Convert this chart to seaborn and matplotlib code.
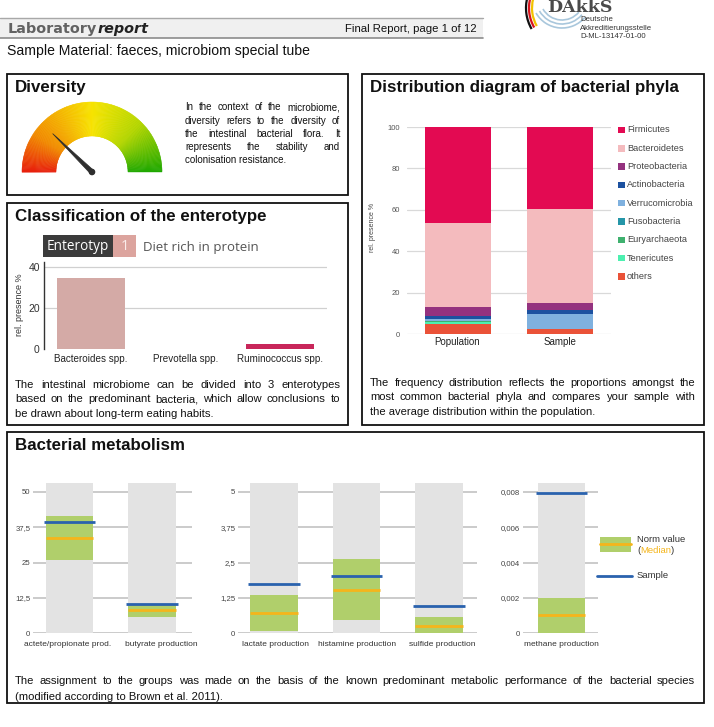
import matplotlib

matplotlib.use("Agg")
import matplotlib.pyplot as plt
import numpy as np
import pandas as pd
import seaborn as sns
from matplotlib.colors import LinearSegmentedColormap
from matplotlib.patches import Arc, Circle, Polygon, Rectangle, Wedge

# ---- data ----
entero_genus = ["Bacteroides spp.", "Prevotella spp.", "Ruminococcus spp."]
entero_share = [34.6, 0.0, 2.6]
entero_colors = ["#DCA49E", "#DCA49E", "#E30B50"]

phyla = ["Firmicutes", "Bacteroidetes", "Proteobacteria", "Actinobacteria",
         "Verrucomicrobia", "Fusobacteria", "Euryarchaeota", "Tenericutes", "others"]
phyla_colors = ["#E30A52", "#F4BBBE", "#94327F", "#1C51A0", "#7FB1DF",
                "#2596A8", "#3FB16F", "#4DF0B0", "#EA5238"]
population_share = [46.4, 40.6, 4.4, 1.2, 1.0, 0.3, 0.3, 0.8, 5.0]
sample_share = [39.7, 45.3, 3.2, 2.1, 7.2, 0.2, 0.0, 0.0, 2.3]

met_labels = [
    ["actete/propionate prod.", "butyrate production"],
    ["lactate production", "histamine production", "sulfide production"],
    ["methane production"],
]
norm_low = [[26.0, 5.8], [0.08, 0.47, 0.0], [0.0]]
norm_high = [[41.6, 10.3], [1.36, 2.62, 0.56], [0.002]]
norm_median = [[33.7, 8.2], [0.72, 1.51, 0.26], [0.001]]
sample_value = [[39.2, 10.4], [1.74, 2.03, 0.95], [0.00794]]
met_ticks = [[0, 12.5, 25, 37.5, 50], [0, 1.25, 2.5, 3.75, 5],
             [0, 0.002, 0.004, 0.006, 0.008]]
met_ticklabels = [["0", "12,5", "25", "37,5", "50"], ["0", "1,25", "2,5", "3,75", "5"],
                  ["0", "0,002", "0,004", "0,006", "0,008"]]

diversity_angle = 135.7  # gauge needle, degrees

diversity_text = ["In the context of the microbiome,", "diversity refers to the diversity of",
                  "the intestinal bacterial flora. It", "represents the stability and",
                  "colonisation resistance."]
entero_text = ["The intestinal microbiome can be divided into 3 enterotypes",
               "based on the predominant bacteria, which allow conclusions to",
               "be drawn about long-term eating habits."]
phyla_text = ["The frequency distribution reflects the proportions amongst the",
              "most common bacterial phyla and compares your sample with",
              "the average distribution within the population."]
met_text = ["The assignment to the groups was made on the basis of the known predominant "
            "metabolic performance of the bacterial species",
            "(modified according to Brown et al. 2011)."]

# ---- page setup ----
W, H = 714, 727
sns.set_theme(style="white")
plt.rcParams["font.family"] = ["Liberation Sans", "DejaVu Sans"]

fig = plt.figure(figsize=(W / 100, H / 100), dpi=100)
bg = fig.add_axes([0, 0, 1, 1])
bg.set_xlim(0, W)
bg.set_ylim(H, 0)
bg.axis("off")
renderer = fig.canvas.get_renderer()


def px_axes(x0, y0, x1, y1):
    ax = fig.add_axes([x0 / W, 1 - y1 / H, (x1 - x0) / W, (y1 - y0) / H])
    ax.set_facecolor("none")
    return ax


def justified(lines, x0, x1, y, dy, size, family=None, color="#111111"):
    kw = dict(fontsize=size, color=color, va="baseline")
    if family:
        kw["family"] = family
    for i, line in enumerate(lines):
        yy = y + i * dy
        words = line.split()
        if i == len(lines) - 1:
            bg.text(x0, yy, line, **kw)
            continue
        ts = [bg.text(0, yy, w, **kw) for w in words]
        widths = [t.get_window_extent(renderer).width for t in ts]
        gap = (x1 - x0 - sum(widths)) / (len(words) - 1)
        x = x0
        for t, w in zip(ts, widths):
            t.set_x(x)
            x += w + gap


def box(x0, y0, x1, y1):
    bg.add_patch(Rectangle((x0, y0), x1 - x0, y1 - y0, fill=False,
                           edgecolor="#111111", linewidth=1.3))


# ---- header ----
bg.add_patch(Rectangle((0, 18), 483, 20, facecolor="#F0F0F0", edgecolor="none"))
bg.plot([0, 483], [18, 18], color="#A8A8A8", lw=1)
bg.plot([0, 483], [38, 38], color="#8C8C8C", lw=1.2)
t = bg.text(8, 32.5, "Laboratory", fontsize=10.4, fontweight="bold", color="#626262",
            va="baseline", family="DejaVu Sans")
tw = t.get_window_extent(renderer).width
bg.text(8 + tw, 32.5, "report", fontsize=10.4, fontweight="bold", style="italic",
        color="#222222", va="baseline", family="DejaVu Sans")
bg.text(477, 32.5, "Final Report, page 1 of 12", fontsize=8.2, color="#111111",
        ha="right", va="baseline")
bg.text(7, 55, "Sample Material: faeces, microbiom special tube", fontsize=10.1,
        color="#111111", va="baseline")

# DAkkS logo
for r, c in zip([42, 39, 36], ["#111111", "#D8141C", "#F2C200"]):
    bg.add_patch(Arc((568, 8), 2 * r, 2 * r, theta1=150, theta2=195, color=c, lw=1.6))
for r in [30, 26, 22]:
    bg.add_patch(Arc((562, -2), 2 * r, 2 * r, theta1=40, theta2=150, color="#A9C7DC", lw=1.2))
bg.text(547, 12, "DAkkS", fontsize=12.5, color="#4A4A4A", family="DejaVu Serif",
        va="baseline", fontweight="bold")
for yy, s in zip([21, 29.5, 38], ["Deutsche", "Akkreditierungsstelle", "D-ML-13147-01-00"]):
    bg.text(580, yy, s, fontsize=5.6, color="#333333", va="baseline")

# ---- boxes ----
box(7, 74, 348, 195)
box(7, 203, 348, 425)
box(362, 74, 704, 425)
box(7, 432, 704, 703)
for x, y, s in [(15, 92, "Diversity"), (15, 221, "Classification of the enterotype"),
                (370, 92, "Distribution diagram of bacterial phyla"), (15, 450, "Bacterial metabolism")]:
    bg.text(x, y, s, fontsize=12.2, fontweight="bold", color="#111111", va="baseline")

# ---- diversity gauge ----
gx0, gy0, gx1, gy1 = 15, 95, 170, 180
gauge = px_axes(gx0, gy0, gx1, gy1)
gauge.set_xlim(gx0, gx1)
gauge.set_ylim(H - gy1, H - gy0)
gauge.axis("off")
cx, cy = 92, H - 172
cmap = LinearSegmentedColormap.from_list(
    "gauge", [(0.0, "#E8200C"), (0.18, "#F18A00"), (0.5, "#F7E400"),
              (0.75, "#B4D600"), (1.0, "#1EA800")])
for a in range(180):
    col = cmap(1 - (a + 0.5) / 180)
    gauge.add_patch(Wedge((cx, cy), 70, a, a + 1.2, width=34, facecolor=col,
                          edgecolor=col, linewidth=0.3))
th = np.radians(diversity_angle)
tip = (cx + 55 * np.cos(th), cy + 55 * np.sin(th))
perp = np.array([-np.sin(th), np.cos(th)]) * 2.3
gauge.add_patch(Polygon([(cx + perp[0], cy + perp[1]), tip, (cx - perp[0], cy - perp[1])],
                        closed=True, facecolor="#2E2E2E", edgecolor="#2E2E2E", lw=0.5))
gauge.add_patch(Circle((cx, cy), 2.6, color="#2E2E2E"))

justified(diversity_text, 185, 340, 110.5, 13.1, 7)

# ---- enterotype ----
bg.add_patch(Rectangle((43, 235), 70, 22, facecolor="#3B3B3B", edgecolor="none"))
bg.add_patch(Rectangle((113, 235), 23, 22, facecolor="#DCA49E", edgecolor="none"))
bg.text(46.5, 246, "Enterotyp", fontsize=9.8, color="white", family="Open Sans", va="center")
bg.text(124.5, 246.5, "1", fontsize=10.5, color="#FBEDEB", family="Open Sans", va="center", ha="center")
bg.text(143, 247, "Diet rich in protein", fontsize=9.5, color="#555555", family="Open Sans", va="center")

ent = px_axes(44, 262, 327, 349)
ent_df = pd.DataFrame({"genus": entero_genus, "share": entero_share})
sns.barplot(data=ent_df, x="genus", y="share", hue="genus", palette=entero_colors,
            legend=False, width=0.72, errorbar=None, ax=ent, linewidth=0)
ent.set_xlim(-0.5, 2.5)
ent.set_ylim(0, 42.5)
ent.set_yticks([0, 20, 40])
ent.set_yticklabels(["0", "20", "40"], fontsize=7.5, color="#333333")
ent.set_xticks([])
ent.set_xlabel("")
ent.set_ylabel("")
for v in [20, 40]:
    ent.axhline(v, color="#D0D0D0", lw=0.9, zorder=0)
for s in ["top", "right", "bottom"]:
    ent.spines[s].set_visible(False)
ent.spines["left"].set_color("#333333")
ent.spines["left"].set_linewidth(1)
ent.tick_params(axis="y", length=0, pad=3)
for i, g in enumerate(entero_genus):
    bg.text(91 + i * 94.3, 359, g, fontsize=7.1, color="#222222", ha="center", va="center")
bg.text(20, 305, "rel. presence %", fontsize=6.5, color="#333333", rotation=90,
        ha="center", va="center")

justified(entero_text, 15, 340, 387.5, 14.6, 8.1)

# ---- phyla stacked bars ----
phy = px_axes(407, 127, 611, 334)
phy_df = pd.DataFrame({"group": ["Population", "Sample"]})
cum_pop = np.cumsum(population_share[::-1])[::-1]
cum_smp = np.cumsum(sample_share[::-1])[::-1]
for i, (name, col) in enumerate(zip(phyla, phyla_colors)):
    phy_df[name] = [cum_pop[i], cum_smp[i]]
    sns.barplot(data=phy_df, x="group", y=name, color=col, width=0.64,
                errorbar=None, ax=phy, linewidth=0, saturation=1)
phy.set_xlim(-0.5, 1.5)
phy.set_ylim(0, 100)
phy.set_yticks([0, 20, 40, 60, 80, 100])
phy.set_yticklabels(["0", "20", "40", "60", "80", "100"], fontsize=5.5, color="#555555")
phy.set_xticks([])
phy.set_xlabel("")
phy.set_ylabel("")
for v in [0, 20, 40, 60, 80, 100]:
    phy.axhline(v, color="#D9D9D9", lw=0.9, zorder=0)
sns.despine(ax=phy, left=True, bottom=True)
phy.tick_params(axis="y", length=0, pad=5)
bg.text(457.5, 342, "Population", fontsize=7, color="#222222", ha="center", va="center")
bg.text(559.5, 342, "Sample", fontsize=7, color="#222222", ha="center", va="center")
bg.text(372, 227, "rel. presence %", fontsize=5, color="#444444", rotation=90,
        ha="center", va="center")
for i, (name, col) in enumerate(zip(phyla, phyla_colors)):
    yy = 130 + i * 18.3
    bg.add_patch(Rectangle((618, yy - 3.3), 6.6, 6.6, facecolor=col, edgecolor="none"))
    bg.text(627, yy, name, fontsize=6.6, color="#444444", va="center")

justified(phyla_text, 370, 695, 386, 14.5, 8)

# ---- bacterial metabolism ----
met_frames = [(33, 192, 69.5), (238, 477, 274), (523, 598, 561.5)]
label_centres = [[68, 161], [275.5, 357, 442], [561.5]]
spacing = 82.5
for k, (x0, x1, c0) in enumerate(met_frames):
    ax = px_axes(x0, 483, x1, 633)
    top = met_ticks[k][-1] * 150 / 141
    labels = met_labels[k]
    n = len(labels)
    df = pd.DataFrame({"proc": labels, "top": [top] * n,
                       "high": norm_high[k], "low": norm_low[k]})
    sns.barplot(data=df, x="proc", y="top", color="#E3E3E3", saturation=1,
                width=0.57, errorbar=None, ax=ax, linewidth=0)
    sns.barplot(data=df, x="proc", y="high", color="#B0CF6B", saturation=1,
                width=0.57, errorbar=None, ax=ax, linewidth=0)
    sns.barplot(data=df, x="proc", y="low", color="#E3E3E3", saturation=1,
                width=0.57, errorbar=None, ax=ax, linewidth=0)
    pos = np.arange(n)
    ax.hlines(norm_median[k], pos - 0.285, pos + 0.285, color="#F5B51B", lw=2, zorder=5)
    ax.hlines(sample_value[k], pos - 0.31, pos + 0.31, color="#2A62AE", lw=2, zorder=6)
    ax.set_xlim((x0 - c0) / spacing, (x1 - c0) / spacing)
    ax.set_ylim(0, top)
    ax.set_yticks(met_ticks[k])
    ax.set_yticklabels(met_ticklabels[k], fontsize=5.6, color="#444444")
    ax.set_xticks([])
    ax.set_xlabel("")
    ax.set_ylabel("")
    for v in met_ticks[k]:
        ax.axhline(v, color="#BDBDBD", lw=1.1, zorder=0)
    sns.despine(ax=ax, left=True, bottom=True)
    ax.tick_params(axis="y", length=0, pad=2)
    for lab, xc in zip(labels, label_centres[k]):
        bg.text(xc, 645, lab, fontsize=6, color="#333333", ha="center", va="center")

# metabolism legend
bg.add_patch(Rectangle((600, 537), 31, 15, facecolor="#B0CF6B", edgecolor="none"))
bg.plot([600, 631], [544, 544], color="#F5B51B", lw=2)
bg.plot([597, 632], [576, 576], color="#2A62AE", lw=2)
bg.text(637, 540, "Norm value", fontsize=6.8, color="#333333", va="center")
t1 = bg.text(637, 550.5, "(", fontsize=6.8, color="#333333", va="center")
w1 = t1.get_window_extent(renderer).width
t2 = bg.text(637 + w1, 550.5, "Median", fontsize=6.8, color="#F5B51B", va="center")
w2 = t2.get_window_extent(renderer).width
bg.text(637 + w1 + w2, 550.5, ")", fontsize=6.8, color="#333333", va="center")
bg.text(637, 576, "Sample", fontsize=6.8, color="#333333", va="center")

justified(met_text, 15, 695, 684.5, 16, 8.1, family=["Liberation Sans Narrow", "Liberation Sans"])

fig.savefig("out.png", dpi=100)
